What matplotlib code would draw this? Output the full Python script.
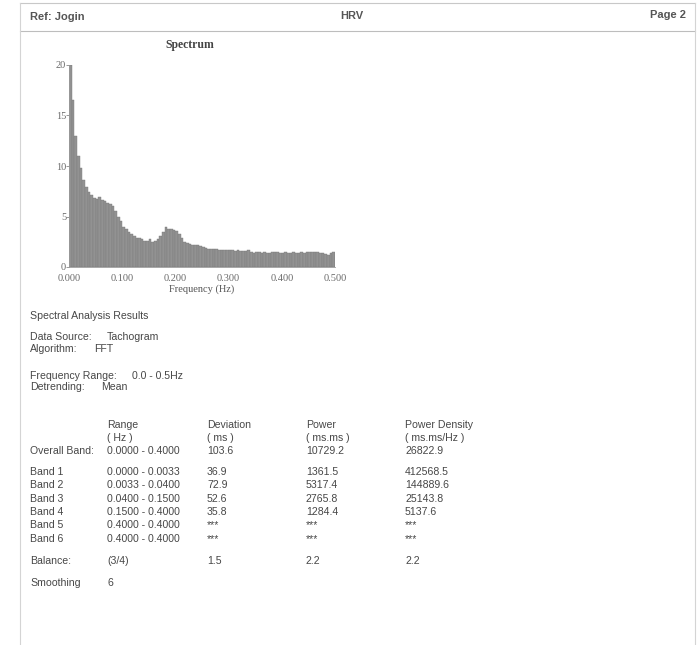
import matplotlib
matplotlib.use("Agg")
import matplotlib.pyplot as plt
import numpy as np
from matplotlib.lines import Line2D

W, H = 700, 645

# spectrum, sampled every 0.005 Hz from 0 to 0.5 Hz
freq_step = 0.005
spectrum = [
    20.0, 16.5, 13.0, 11.0, 9.8, 8.6, 7.9, 7.4, 7.1, 6.8,
    6.7, 6.9, 6.6, 6.5, 6.3, 6.2, 6.0, 5.5, 5.0, 4.6,
    4.0, 3.8, 3.5, 3.3, 3.1, 2.9, 2.9, 2.8, 2.6, 2.6,
    2.8, 2.5, 2.6, 2.8, 3.1, 3.5, 4.0, 3.8, 3.8, 3.7,
    3.6, 3.3, 2.9, 2.5, 2.4, 2.3, 2.2, 2.2, 2.2, 2.1,
    2.0, 1.9, 1.8, 1.8, 1.8, 1.75, 1.7, 1.7, 1.65, 1.7,
    1.7, 1.65, 1.6, 1.65, 1.6, 1.6, 1.6, 1.65, 1.5, 1.35,
    1.45, 1.5, 1.4, 1.5, 1.4, 1.4, 1.45, 1.5, 1.45, 1.4,
    1.4, 1.45, 1.4, 1.4, 1.45, 1.4, 1.4, 1.45, 1.4, 1.45,
    1.45, 1.5, 1.45, 1.5, 1.4, 1.35, 1.3, 1.2, 1.4, 1.45,
    1.4,
]
x_ticks = [0.0, 0.1, 0.2, 0.3, 0.4, 0.5]
y_ticks = [0, 5, 10, 15, 20]

info_lines = [
    ("Data Source:", "Tachogram"),
    ("Algorithm:", "FFT"),
    ("Frequency Range:", "0.0 - 0.5Hz"),
    ("Detrending:", "Mean"),
]

col_headers = [
    ("Range", "( Hz )"),
    ("Deviation", "( ms )"),
    ("Power", "( ms.ms )"),
    ("Power Density", "( ms.ms/Hz )"),
]
overall_row = ["Overall Band:", "0.0000 - 0.4000", "103.6", "10729.2", "26822.9"]
band_rows = [
    ["Band 1", "0.0000 - 0.0033", "36.9", "1361.5", "412568.5"],
    ["Band 2", "0.0033 - 0.0400", "72.9", "5317.4", "144889.6"],
    ["Band 3", "0.0400 - 0.1500", "52.6", "2765.8", "25143.8"],
    ["Band 4", "0.1500 - 0.4000", "35.8", "1284.4", "5137.6"],
    ["Band 5", "0.4000 - 0.4000", "***", "***", "***"],
    ["Band 6", "0.4000 - 0.4000", "***", "***", "***"],
]
balance_row = ["Balance:", "(3/4)", "1.5", "2.2", "2.2"]
smoothing_row = ["Smoothing", "6"]

TXT = "#474747"
SANS = ["Liberation Sans", "DejaVu Sans"]
SERIF = ["Liberation Serif", "DejaVu Serif"]

fig = plt.figure(figsize=(W / 100, H / 100), dpi=100)
fig.patch.set_facecolor("white")


def put(x, y, s, **kw):
    kw.setdefault("color", TXT)
    kw.setdefault("family", SANS)
    kw.setdefault("fontsize", 7.6)
    kw.setdefault("va", "center")
    fig.text(x / W, 1 - y / H, s, **kw)


def hline(y, x0, x1, color="#c8c8c8", lw=0.8):
    fig.add_artist(Line2D([x0 / W, x1 / W], [1 - y / H, 1 - y / H], color=color, lw=lw))


def vline(x, y0, y1, color="#d4d4d4", lw=0.8):
    fig.add_artist(Line2D([x / W, x / W], [1 - y0 / H, 1 - y1 / H], color=color, lw=lw))


# page frame and header
hline(3, 20, 695)
hline(31, 20, 695, color="#bdbdbd")
vline(20, 3, 645)
vline(695, 3, 645)

put(30, 17, "Ref: Jogin", fontweight="bold", fontsize=8, color="#555555")
put(352, 16, "HRV", fontweight="bold", fontsize=8, color="#555555", ha="center")
put(686, 15, "Page 2", fontweight="bold", fontsize=8, color="#555555", ha="right")

# spectrum plot
ax = fig.add_axes([69 / W, (H - 267) / H, 266 / W, 202 / H])
freqs = np.arange(len(spectrum)) * freq_step
ax.bar(freqs, spectrum, width=freq_step, align="edge", color="#929292",
       edgecolor="#7a7a7a", linewidth=0.3)
ax.set_xlim(0, 0.5)
ax.set_ylim(0, 20)
ax.set_xticks(x_ticks)
ax.set_xticklabels([f"{t:.3f}" for t in x_ticks])
ax.set_yticks(y_ticks)
for lab in ax.get_xticklabels() + ax.get_yticklabels():
    lab.set_family(SERIF)
    lab.set_fontsize(7.5)
    lab.set_color("#6a6a6a")
ax.tick_params(axis="x", length=0, pad=5)
ax.tick_params(axis="y", length=2, width=0.6, color="#888888", pad=0)
for side in ("top", "right"):
    ax.spines[side].set_visible(False)
for side in ("left", "bottom"):
    ax.spines[side].set_color("#999999")
    ax.spines[side].set_linewidth(0.6)
ax.set_xlabel("Frequency (Hz)", family=SERIF, fontsize=7.5, color="#555555", labelpad=1)
fig.text(190 / W, 1 - 45 / H, "Spectrum", family=SERIF, fontsize=8.5,
         fontweight="bold", color="#444444", ha="center", va="center")

# analysis summary
put(30, 316, "Spectral Analysis Results")
info_y = [337, 348.5, 376, 387.5]
info_x = [107, 94, 132, 101]
for (label, value), y, vx in zip(info_lines, info_y, info_x):
    put(30, y, label)
    put(vx, y, value)

# band table
col_x = [30, 107, 207, 306, 405]
for (top, sub), x in zip(col_headers, col_x[1:]):
    put(x, 425, top)
    put(x, 438, sub)
for x, s in zip(col_x, overall_row):
    put(x, 451.5, s)
band_y = [472, 485, 498.5, 512, 525.5, 539]
for row, y in zip(band_rows, band_y):
    for x, s in zip(col_x, row):
        put(x, y, s)
for x, s in zip(col_x, balance_row):
    put(x, 561, s)
for x, s in zip(col_x, smoothing_row):
    put(x, 583, s)

fig.savefig("out.png", dpi=100)
